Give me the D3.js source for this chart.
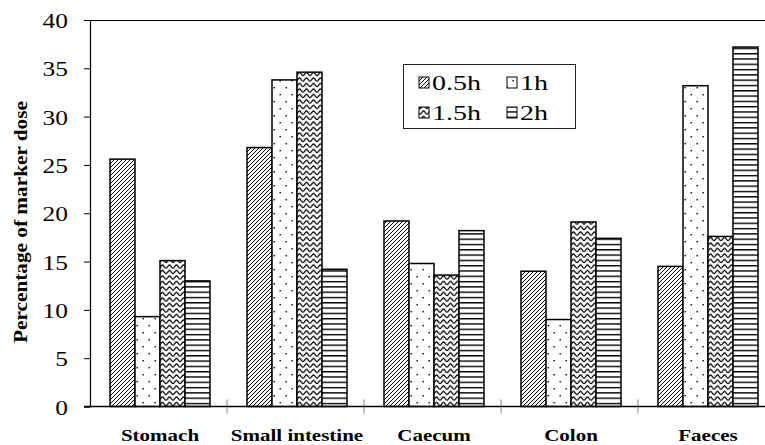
<!DOCTYPE html>
<html>
<head>
<meta charset="utf-8">
<script src="https://cdn.jsdelivr.net/npm/d3@7"></script>
<style>
  html, body { margin: 0; padding: 0; background: #fff; }
  svg { display: block; }
  text { font-family: "Liberation Serif", "Times New Roman", serif; fill: #000; }
</style>
</head>
<body>
<svg id="chart" width="765" height="445"></svg>
<script>
// Distribution of the marker dose along the gut at four sampling times
const categories = ["Stomach", "Small intestine", "Caecum", "Colon", "Faeces"];
const seriesNames = ["0.5h", "1h", "1.5h", "2h"];
const values05 = [25.6, 26.8, 19.2, 14.0, 14.5];
const values1 = [9.3, 33.8, 14.8, 9.0, 33.2];
const values15 = [15.1, 34.6, 13.6, 19.1, 17.6];
const values2 = [13.0, 14.2, 18.2, 17.4, 37.2];
const yTicks = [0, 5, 10, 15, 20, 25, 30, 35, 40];
const yLabel = "Percentage of marker dose";

const seriesValues = [values05, values1, values15, values2];
const patternIds = ["pat-diag", "pat-dots", "pat-wave", "pat-hlines"];

const svg = d3.select("#chart");
const W = 765;
const SX = 1.3; // glyphs are set wide along the baseline

const plotLeft = 90, plotTop = 20, plotBottom = 406.5;
const x = d3.scaleBand().domain(categories).range([plotLeft, plotLeft + 5 * 137]).paddingInner(0).paddingOuter(0);
const y = d3.scaleLinear().domain([0, 40]).range([plotBottom, plotTop]);
const groupW = 100;
const xs = d3.scaleBand().domain(seriesNames).range([0, groupW]).padding(0);

// ---- hatch patterns ----
const defs = svg.append("defs");
function addPattern(id, w, h, draw) {
  const p = defs.append("pattern").attr("id", id)
    .attr("patternUnits", "userSpaceOnUse").attr("width", w).attr("height", h);
  p.append("rect").attr("width", w).attr("height", h).attr("fill", "#fff");
  draw(p);
}
addPattern("pat-diag", 4, 4, p => p.append("path")
  .attr("d", "M-1,1 L1,-1 M0,4 L4,0 M3,5 L5,3")
  .attr("stroke", "#000").attr("stroke-width", 1).attr("fill", "none"));
addPattern("pat-dots", 12, 14, p => {
  p.append("rect").attr("x", 2.5).attr("y", 3).attr("width", 1.4).attr("height", 1.4).attr("fill", "#000");
  p.append("rect").attr("x", 8.5).attr("y", 10).attr("width", 1.4).attr("height", 1.4).attr("fill", "#000");
});
addPattern("pat-wave", 7, 5.5, p => p.append("path")
  .attr("d", "M0,4.2 C1.3,4.2 2.1,0.9 3.5,0.9 C4.9,0.9 5.7,4.2 7,4.2")
  .attr("stroke", "#000").attr("stroke-width", 1.2).attr("fill", "none"));
addPattern("pat-hlines", 10, 5.3, p => p.append("rect")
  .attr("x", 0).attr("y", 0).attr("width", 10).attr("height", 1.4).attr("fill", "#000"));

// ---- plot frame / axes ----
svg.append("line").attr("x1", plotLeft).attr("x2", W).attr("y1", plotTop + 0.5).attr("y2", plotTop + 0.5)
  .attr("stroke", "#000").attr("stroke-width", 1);

const yAxis = svg.append("g").attr("transform", `translate(${plotLeft},0)`)
  .call(d3.axisLeft(y).tickValues(yTicks).tickSize(6).tickPadding(12).tickFormat(d3.format("d")));
yAxis.select(".domain").attr("stroke", "#000").attr("stroke-width", 1.2);
yAxis.selectAll(".tick line").attr("stroke", "#000").attr("stroke-width", 1);
yAxis.selectAll(".tick text")
  .style("font-size", "20px").style("font-family", "Liberation Serif")
  .attr("x", null).attr("dy", null)
  .attr("dominant-baseline", "central")
  .attr("transform", `translate(-22,1) scale(1.27,1)`)
  .attr("text-anchor", "end");

// ---- bars ----
const groups = svg.append("g").selectAll("g").data(categories).join("g")
  .attr("transform", c => `translate(${x(c) + x.bandwidth() / 2 - groupW / 2 + 1.5},0)`);
groups.selectAll("rect").data((c, ci) => seriesNames.map((s, si) => ({ s, si, v: seriesValues[si][ci] })))
  .join("rect")
  .attr("x", d => xs(d.s))
  .attr("y", d => y(d.v))
  .attr("width", xs.bandwidth())
  .attr("height", d => y(0) - y(d.v))
  .attr("fill", d => `url(#${patternIds[d.si]})`)
  .attr("stroke", "#000").attr("stroke-width", 1.5);

// x axis line and category separators
svg.append("line").attr("x1", plotLeft - 6).attr("x2", W).attr("y1", plotBottom).attr("y2", plotBottom)
  .attr("stroke", "#000").attr("stroke-width", 1.5);
const seps = categories.slice(1).map(c => x(c));
svg.append("g").selectAll("line").data(seps).join("line")
  .attr("x1", d => d).attr("x2", d => d).attr("y1", plotBottom - 7).attr("y2", plotBottom + 7)
  .attr("stroke", "#666").attr("stroke-width", 0.8);

// category labels
svg.append("g").selectAll("text").data(categories).join("text")
  .attr("transform", c => `translate(${x(c) + x.bandwidth() / 2 + 1.5},${441}) scale(1.25,1)`)
  .attr("text-anchor", "middle")
  .style("font-size", "16.8px").style("font-weight", "bold")
  .text(c => c);

// y axis title
svg.append("text")
  .attr("transform", `translate(27,222) rotate(-90) scale(1.12,1)`)
  .attr("text-anchor", "middle")
  .style("font-size", "19px").style("font-weight", "bold")
  .text(yLabel);

// ---- legend ----
const lg = svg.append("g");
lg.append("rect").attr("x", 403.5).attr("y", 64.5).attr("width", 172).attr("height", 64)
  .attr("fill", "#fff").attr("stroke", "#222").attr("stroke-width", 1);
const legendPos = [[419, 90], [507, 90], [419, 120], [507, 120]];
seriesNames.forEach((s, i) => {
  const [lx, ly] = legendPos[i];
  lg.append("rect").attr("x", lx).attr("y", ly - 13).attr("width", 10).attr("height", 11)
    .attr("fill", `url(#${patternIds[i]})`).attr("stroke", "#000").attr("stroke-width", 1);
  lg.append("text").attr("transform", `translate(${lx + 13},${ly}) scale(1.4,1)`)
    .style("font-size", "20px").text(s);
});
</script>
</body>
</html>
